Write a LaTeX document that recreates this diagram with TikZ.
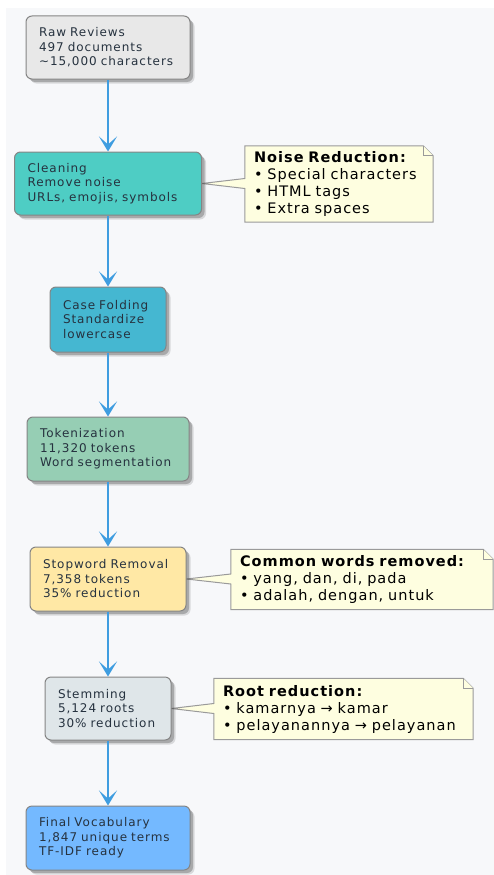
\documentclass[tikz,border=0pt]{standalone}
\usepackage{fontspec}
\setmainfont{DejaVu Sans}
\newfontfamily\nodefont[LetterSpace=8]{DejaVu Sans}
\newfontfamily\notefont[LetterSpace=7]{DejaVu Sans}
\usetikzlibrary{arrows.meta,shadows,calc}
\pgfdeclarelayer{bg}
\pgfdeclarelayer{notebg}
\pgfsetlayers{bg,notebg,main}
\definecolor{pagebg}{HTML}{F7F8FA}
\definecolor{txt}{HTML}{26323F}
\definecolor{boxline}{HTML}{858585}
\definecolor{craw}{HTML}{E8E8E8}
\definecolor{cclean}{HTML}{4ECDC4}
\definecolor{ccase}{HTML}{45B7D1}
\definecolor{ctok}{HTML}{96CEB4}
\definecolor{cstop}{HTML}{FFE8A5}
\definecolor{cstem}{HTML}{DFE6E9}
\definecolor{cfinal}{HTML}{74B9FF}
\definecolor{notefill}{HTML}{FEFEE0}
\definecolor{noteline}{HTML}{9A9A9A}
\definecolor{arrc}{HTML}{3F9DE0}
\tikzset{
  proc/.style={draw=boxline, line width=1pt, rounded corners=6pt, text=txt,
    font=\nodefont\fontsize{12}{14.5}\selectfont, align=left,
    inner xsep=13pt, inner ysep=0pt, minimum height=64pt,
    general shadow={shadow xshift=4.5pt, shadow yshift=-4.5pt, fill=black, opacity=.12},
    drop shadow={shadow xshift=3pt, shadow yshift=-3pt, fill=black, opacity=.22}},
  notetext/.style={font=\notefont\fontsize{14.5}{17}\selectfont, align=left,
    inner xsep=9pt, inner ysep=0pt, text=black},
  noteshape/.style={draw=noteline, fill=notefill, line width=1pt, line join=miter},
  arr/.style={draw=arrc, line width=2.6pt,
    -{Stealth[length=15pt,width=18pt,inset=8pt]}}
}
\newcommand{\notepath}[2]{%
  \coordinate (#1a) at ([yshift=5pt]#2.east);
  \coordinate (#1b) at ([yshift=-5pt]#2.east);
  \begin{pgfonlayer}{notebg}
  \draw[noteshape] (#1.north west) -- ([xshift=-10pt]#1.north east)
    -- ([yshift=-10pt]#1.north east) -- (#1.south east) -- (#1.south west)
    -- (#1.west |- #1b) -- (#2.east) -- (#1.west |- #1a) -- cycle;
  \draw[noteshape] ([xshift=-10pt]#1.north east) |- ([yshift=-10pt]#1.north east);
  \end{pgfonlayer}}
\begin{document}
\begin{tikzpicture}[x=1pt,y=-1pt]
\useasboundingbox (0,0) rectangle (494,875);
\begin{pgfonlayer}{bg}
\fill[white] (0,0) rectangle (494,875);
\fill[pagebg] (6,8) rectangle (494,875);
\end{pgfonlayer}

\node[proc, fill=craw, text width=138pt, minimum height=63pt] (raw) at (108,47.5)
  {\mbox{Raw Reviews}\\\mbox{497 documents}\\\mbox{\textasciitilde 15,000 characters}};
\node[proc, fill=cclean, text width=161pt, minimum height=63pt] (clean) at (108,183.5)
  {\mbox{Cleaning}\\\mbox{Remove noise}\\\mbox{URLs, emojis, symbols}};
\node[proc, fill=ccase, text width=90pt, minimum height=65pt] (case) at (108,319.5)
  {\mbox{Case Folding}\\\mbox{Standardize}\\\mbox{lowercase}};
\node[proc, fill=ctok, text width=136pt] (tok) at (108,449)
  {\mbox{Tokenization}\\\mbox{11,320 tokens}\\\mbox{Word segmentation}};
\node[proc, fill=cstop, text width=130pt] (stop) at (108,579)
  {\mbox{Stopword Removal}\\\mbox{7,358 tokens}\\\mbox{35\% reduction}};
\node[proc, fill=cstem, text width=100pt, minimum height=63pt] (stem) at (108,708.5)
  {\mbox{Stemming}\\\mbox{5,124 roots}\\\mbox{30\% reduction}};
\node[proc, fill=cfinal, text width=138pt] (final) at (108,838)
  {\mbox{Final Vocabulary}\\\mbox{1,847 unique terms}\\\mbox{TF-IDF ready}};

\draw[arr] (raw.south) -- (clean.north);
\draw[arr] (clean.south) -- (case.north);
\draw[arr] (case.south) -- (tok.north);
\draw[arr] (tok.south) -- (stop.north);
\draw[arr] (stop.south) -- (stem.north);
\draw[arr] (stem.south) -- (final.north);

\node[notetext, text width=170pt, minimum height=76pt] (n1) at (339,184)
  {\mbox{\bfseries Noise Reduction:}\\\mbox{• Special characters}\\\mbox{• HTML tags}\\\mbox{• Extra spaces}};
\notepath{n1}{clean}
\node[notetext, text width=244pt, minimum height=60pt] (n2) at (362,579.5)
  {\mbox{\bfseries Common words removed:}\\\mbox{• yang, dan, di, pada}\\\mbox{• adalah, dengan, untuk}};
\notepath{n2}{stop}
\node[notetext, text width=241pt, minimum height=61pt] (n3) at (343.5,709)
  {\mbox{\bfseries Root reduction:}\\\mbox{• kamarnya → kamar}\\\mbox{• pelayanannya → pelayanan}};
\notepath{n3}{stem}
\end{tikzpicture}
\end{document}
